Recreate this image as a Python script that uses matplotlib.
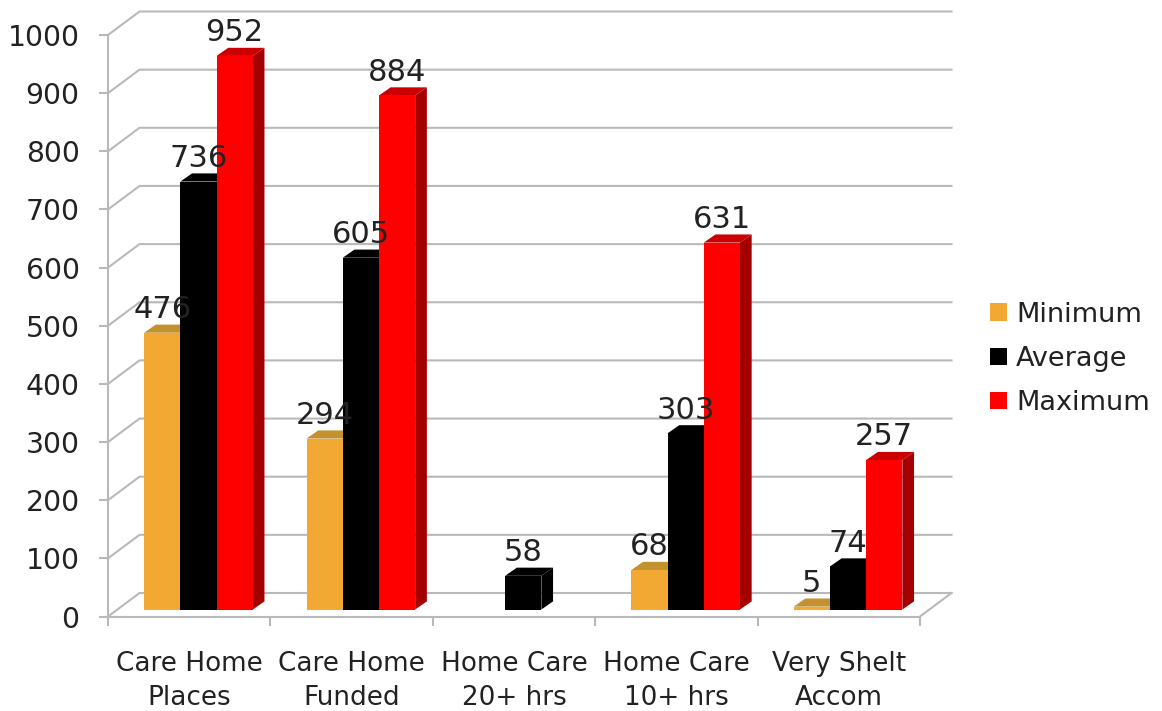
import numpy as np
import matplotlib
matplotlib.use("Agg")
import matplotlib.pyplot as plt
from matplotlib.patches import Polygon, Patch

categories = ["Care Home\nPlaces", "Care Home\nFunded", "Home Care\n20+ hrs", "Home Care\n10+ hrs", "Very Shelt\nAccom"]
minimum = [476, 294, None, 68, 5]
average = [736, 605, 58, 303, 74]
maximum = [952, 884, None, 631, 257]
series_names = ["Minimum", "Average", "Maximum"]
y_ticks = list(range(0, 1001, 100))

W, H = 1162, 711
FRONT = "#F2A933", "#000000", "#FF0000"
TOP = "#C4912F", "#000000", "#CC0000"
SIDE = "#A87A20", "#000000", "#A50000"
GRID = "#B9B9B9"
TXT = "#222222"

fig = plt.figure(figsize=(W / 100, H / 100), dpi=100, facecolor="white")
ax = fig.add_axes([108 / W, 1 - 616.5 / H, 812 / W, 581.5 / H])
ax.set_xlim(0, 5)
ax.set_ylim(0, 1000)
ax.patch.set_visible(False)

# projection offsets, in data units per category / per value
WALL_DX, WALL_DY = 0.194, 40.4
BAR_OFF_X, BAR_OFF_Y = 0.057, 12.0
BAR_DX, BAR_DY = 0.072, 14.0
BAR_W = 0.223

for v in y_ticks:
    ax.plot([0, WALL_DX, 5 + WALL_DX], [v, v + WALL_DY, v + WALL_DY], color=GRID, lw=1.5,
            clip_on=False, zorder=1, solid_joinstyle="miter")
ax.plot([5, 5 + WALL_DX], [0, WALL_DY], color=GRID, lw=1.5, clip_on=False, zorder=1)

for s, vals in enumerate([minimum, average, maximum]):
    for c, v in enumerate(vals):
        if v is None:
            continue
        x0 = c + 0.5 + BAR_OFF_X + (s - 1.5) * BAR_W
        x1 = x0 + BAR_W
        b = BAR_OFF_Y
        t = v + BAR_OFF_Y
        z = 2 + s * 0.1
        ax.add_patch(Polygon([(x0, t), (x1, t), (x1 + BAR_DX, t + BAR_DY), (x0 + BAR_DX, t + BAR_DY)],
                             fc=TOP[s], ec="none", clip_on=False, zorder=z))
        ax.add_patch(Polygon([(x1, b), (x1 + BAR_DX, b + BAR_DY), (x1 + BAR_DX, t + BAR_DY), (x1, t)],
                             fc=SIDE[s], ec="none", clip_on=False, zorder=z))
        ax.bar(x0, v, width=BAR_W, bottom=b, align="edge", color=FRONT[s], zorder=z + 0.01, clip_on=False)
        ax.text(x0 + BAR_W / 2, t + 40, str(v), ha="center", va="center", fontsize=22,
                color=TXT, zorder=5, clip_on=False)

for sp in ("top", "right"):
    ax.spines[sp].set_visible(False)
for sp in ("left", "bottom"):
    ax.spines[sp].set_color(GRID)
    ax.spines[sp].set_linewidth(1.5)
    ax.spines[sp].set_zorder(1.5)

ax.set_yticks(y_ticks)
ax.tick_params(axis="y", length=6.5, width=1.5, color=GRID, pad=14, labelsize=20.3, labelcolor=TXT)
ax.set_xticks(range(6))
ax.set_xticklabels([])
ax.tick_params(axis="x", which="major", length=6.5, width=1.5, color=GRID)
ax.set_xticks(np.arange(5) + 0.5, minor=True)
ax.set_xticklabels(categories, minor=True, fontsize=18.9, color=TXT, linespacing=1.4)
ax.tick_params(axis="x", which="minor", length=0, pad=25)

handles = [Patch(fc=FRONT[i], ec="none", label=series_names[i]) for i in range(3)]
fig.legend(handles=handles, loc="center left", bbox_to_anchor=(985 / W, 1 - 359 / H), frameon=False,
           fontsize=19.5, handlelength=0.6, handleheight=0.6, handletextpad=0.35,
           labelspacing=0.68, labelcolor=TXT, borderpad=0.2, borderaxespad=0)

fig.savefig("out.png", dpi=100, facecolor="white")
